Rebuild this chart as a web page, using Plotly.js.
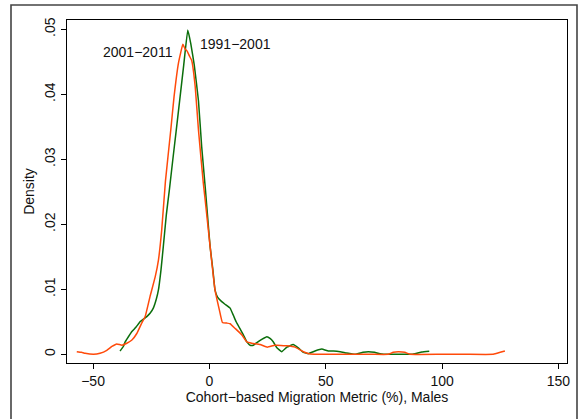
<!DOCTYPE html>
<html>
<head>
<meta charset="utf-8">
<script src="https://cdn.plot.ly/plotly-3.0.1.min.js"></script>
<style>
  html, body { margin: 0; padding: 0; background: #fff; }
  #chart { width: 582px; height: 419px; }
</style>
</head>
<body>
<div id="chart"></div>
<script>
// 1991–2001 kernel density (green)
const x1991 = [-38.4, -37.0, -36.2, -34.8, -33.3, -31.5, -29.8, -28.0, -26.9, -25.5, -24.1, -22.8, -21.9, -20.8, -19.8, -18.5, -17.2, -15.8, -14.3, -12.6, -11.0, -9.3, -8.0, -6.5, -4.7, -3.3, -1.7, -0.5, 0.3, 1.5, 2.4, 3.5, 5.3, 6.7, 8.9, 10.3, 11.5, 13.2, 14.6, 16.1, 17.5, 18.9, 20.4, 22.5, 24.7, 26.2, 27.5, 29.0, 31.1, 33.3, 36.0, 38.2, 40.4, 42.5, 45.4, 48.3, 51.1, 53.3, 56.2, 59.0, 62.6, 66.0, 68.3, 71.0, 73.3, 77.6, 82.0, 87.0, 89.5, 91.3, 94.5];
const y1991 = [0.0005, 0.0012, 0.0019, 0.0027, 0.0035, 0.0042, 0.0050, 0.0055, 0.0058, 0.0063, 0.0071, 0.0085, 0.0099, 0.0130, 0.0166, 0.0215, 0.0253, 0.0297, 0.0343, 0.0396, 0.0446, 0.0499, 0.0478, 0.0445, 0.0390, 0.0319, 0.0253, 0.0200, 0.0166, 0.0130, 0.0099, 0.0088, 0.0081, 0.0077, 0.0071, 0.0060, 0.0050, 0.0039, 0.0030, 0.0019, 0.0014, 0.0014, 0.0018, 0.0023, 0.0027, 0.0024, 0.0019, 0.0010, 0.0004, 0.0011, 0.0015, 0.0010, 0.0003, 0.0001, 0.0005, 0.0008, 0.0005, 0.0005, 0.0004, 0.0002, 0.0000, 0.0003, 0.0004, 0.0003, 0.0001, 0.0000, 0.0000, 0.0000, 0.0002, 0.00035, 0.00046];

// 2001–2011 kernel density (orange)
const x2001 = [-57.0, -55.0, -53.4, -49.8, -47.0, -44.1, -41.9, -39.8, -37.6, -35.5, -33.3, -31.2, -29.1, -27.6, -25.5, -23.3, -21.9, -20.5, -18.9, -16.6, -15.2, -13.3, -11.4, -10.5, -9.5, -8.6, -7.6, -6.1, -4.7, -2.6, -1.8, 0.3, 2.4, 4.3, 5.6, 7.5, 8.9, 11.0, 13.9, 16.1, 18.2, 21.8, 24.9, 28.2, 33.3, 36.8, 40.4, 43.3, 50.0, 60.0, 70.0, 76.8, 79.0, 81.2, 84.0, 86.2, 100.0, 110.0, 122.0, 125.0, 127.0];
const y2001 = [0.0004, 0.0003, 0.00015, 0.0000, 0.00015, 0.0006, 0.0012, 0.0016, 0.0014, 0.0017, 0.0022, 0.0032, 0.0048, 0.0058, 0.0089, 0.0119, 0.0145, 0.0191, 0.0266, 0.0345, 0.0396, 0.0448, 0.0477, 0.0470, 0.0466, 0.0459, 0.0452, 0.0412, 0.0345, 0.0263, 0.0237, 0.0166, 0.0099, 0.0068, 0.0049, 0.0048, 0.0047, 0.0040, 0.0030, 0.0019, 0.0017, 0.0015, 0.0011, 0.0014, 0.0013, 0.0011, 0.0004, 0.00005, 0.0000, 0.0000, 0.0000, 0.0000, 0.0003, 0.0004, 0.0003, 0.0000, 0.0000, 0.0000, 0.0000, 0.0003, 0.0005];

const yTickVals = [0, 0.01, 0.02, 0.03, 0.04, 0.05];
const yTickText = ["0", ".01", ".02", ".03", ".04", ".05"];
const xTickVals = [-50, 0, 50, 100, 150];

const labels = [
  {text: "2001\u22122011", x: -30.9, y: 0.04646},
  {text: "1991\u22122001", x: 11.2, y: 0.04774}
];

const FONT = "Liberation Sans, Arial, Helvetica, sans-serif";

const traces = [
  {x: x1991, y: y1991, type: "scatter", mode: "lines",
   line: {color: "#0b6e0b", width: 1.5, shape: "spline", smoothing: 0.3}, hoverinfo: "skip"},
  {x: x2001, y: y2001, type: "scatter", mode: "lines",
   line: {color: "#ff4a0a", width: 1.5, shape: "spline", smoothing: 0.3}, hoverinfo: "skip"}
];

const layout = {
  width: 582, height: 419,
  margin: {l: 67, r: 15, t: 20, b: 56},
  paper_bgcolor: "#ffffff", plot_bgcolor: "#ffffff",
  showlegend: false,
  font: {family: FONT, size: 14, color: "#111"},
  xaxis: {
    range: [-61.2, 153.7], tickvals: xTickVals, ticks: "outside", ticklen: 5, tickwidth: 1,
    tickcolor: "#000", showline: true, linecolor: "#000", linewidth: 1.3, mirror: true,
    showgrid: false, zeroline: false, tickfont: {size: 14},
    title: {text: "Cohort\u2212based Migration Metric (%), Males", font: {size: 14}, standoff: 3}
  },
  yaxis: {
    range: [-0.00134, 0.05143], tickvals: yTickVals, ticktext: yTickText, tickangle: -90,
    ticks: "outside", ticklen: 5, tickwidth: 1, tickcolor: "#000",
    showline: true, linecolor: "#000", linewidth: 1.3, mirror: true,
    showgrid: false, zeroline: false, tickfont: {size: 14},
    title: {text: "Density", font: {size: 14}, standoff: 4}
  },
  annotations: labels.map(l => ({
    text: l.text, x: l.x, y: l.y, xref: "x", yref: "y",
    showarrow: false, font: {size: 14, color: "#111"}
  })),
  shapes: [{
    type: "rect", xref: "paper", yref: "paper",
    x0: -0.112, x1: 1.02, y0: -0.18, y1: 1.0437,
    line: {color: "#444", width: 1.6}, fillcolor: "rgba(0,0,0,0)", layer: "below"
  }]
};

Plotly.newPlot("chart", traces, layout, {staticPlot: true, displayModeBar: false});
</script>
</body>
</html>
